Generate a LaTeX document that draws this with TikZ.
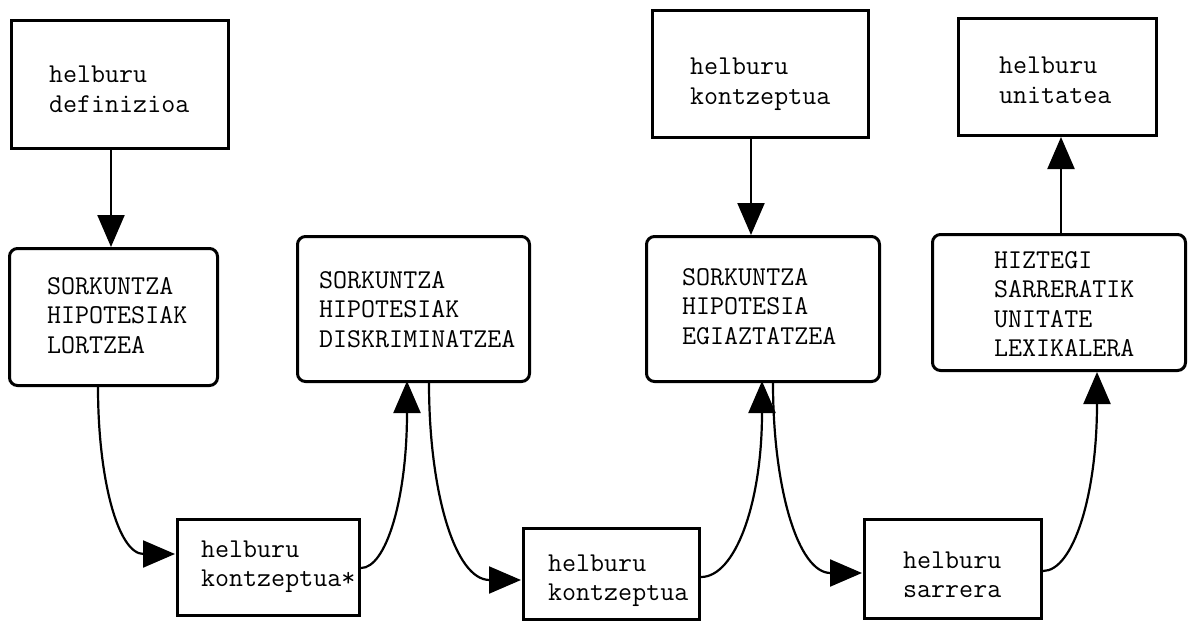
\documentclass[tikz,border=0pt]{standalone}
\usepackage{fontspec}
\usetikzlibrary{arrows.meta,calc}

\tikzset{
  box/.style={draw, line width=3pt, inner sep=0pt},
  roundbox/.style={box, rounded corners=8pt},
  label text/.style={anchor=base west, inner sep=0pt, align=left, text width=260pt,
    font=\fontsize{27.2pt}{29.5pt}\selectfont\ttfamily},
  link/.style={line width=2.2pt, -{Triangle[length=32pt,width=27pt]}}
}

\begin{document}
\begin{tikzpicture}[x=1pt, y=-1pt]
\fill[white] (0,0) rectangle (1188,623);
\useasboundingbox (0,0) rectangle (1188,623);

% boxes
\node[box, minimum width=217pt, minimum height=128pt] (n1) at (120,84.5) {};
\node[roundbox, minimum width=208pt, minimum height=137pt] (n2) at (113.5,317) {};
\node[box, minimum width=182pt, minimum height=96pt] (n3) at (268.5,567.5) {};
\node[roundbox, minimum width=232pt, minimum height=145pt] (n4) at (413.5,309) {};
\node[box, minimum width=176pt, minimum height=91pt] (n5) at (611.5,574) {};
\node[box, minimum width=216pt, minimum height=127pt] (n6) at (760.5,74) {};
\node[roundbox, minimum width=233pt, minimum height=145pt] (n7) at (763,309) {};
\node[box, minimum width=177pt, minimum height=99pt] (n8) at (953,569) {};
\node[box, minimum width=198pt, minimum height=117pt] (n9) at (1057.5,77) {};
\node[roundbox, minimum width=253pt, minimum height=136pt] (n10) at (1059,302.5) {};

% texts
\node[label text] (t1) at (49,83) {helburu\\definizioa};
\node[label text] (t2) at (47,294) {SORKUNTZA\\HIPOTESIAK\\LORTZEA};
\node[label text] (t3) at (201,557) {helburu\\kontzeptua*};
\node[label text] (t4) at (319,288) {SORKUNTZA\\HIPOTESIAK\\DISKRIMINATZEA};
\node[label text] (t5) at (548,571) {helburu\\kontzeptua};
\node[label text] (t6) at (690,75) {helburu\\kontzeptua};
\node[label text] (t7) at (682,285) {SORKUNTZA\\HIPOTESIA\\EGIAZTATZEA};
\node[label text] (t8) at (903,568) {helburu\\sarrera};
\node[label text] (t9) at (999,74) {helburu\\unitatea};
\node[label text] (t10) at (994,268) {HIZTEGI\\SARRERATIK\\UNITATE\\LEXIKALERA};

% connector end points
\coordinate (s1) at ($(n1.south)+(-9,0)$);
\coordinate (s2) at ($(n2.south)+(-15.5,0)$);
\coordinate (e2) at ($(n3.west)+(-1,-13.5)$);
\coordinate (s3) at ($(n3.east)+(0,0.5)$);
\coordinate (e3) at ($(n4.south)+(-6.5,-2)$);
\coordinate (s4) at ($(n4.south)+(15.5,0)$);
\coordinate (e4) at ($(n5.west)+(-1,6)$);
\coordinate (s5) at ($(n5.east)+(0,3)$);
\coordinate (e5) at ($(n7.south)+(-1,-2)$);
\coordinate (s6) at ($(n7.south)+(10,0)$);
\coordinate (e6) at ($(n8.west)+(-1,4)$);
\coordinate (s7) at ($(n8.east)+(0,2)$);
\coordinate (e7) at ($(n10.south)+(38,0)$);
\coordinate (s8) at ($(n6.south)+(-9.5,0)$);
\coordinate (s9) at ($(n10.north)+(2,0)$);

% connectors (second control point lies beyond the arrow head)
\draw[link] (s1) -- (s1 |- n2.north);
\draw[link] (s2) .. controls +(0,92) and +(-57,0) .. (e2);
\draw[link] (s3) .. controls +(25,0) and +(0,118) .. (e3);
\draw[link] (s4) .. controls +(0,109) and +(-66,0) .. (e4);
\draw[link] (s5) .. controls +(34,0) and +(0,123) .. (e5);
\draw[link] (s6) .. controls +(0,105) and +(-64,0) .. (e6);
\draw[link] (s7) .. controls +(30,0) and +(0,124) .. (e7);
\draw[link] (s8) -- (s8 |- n7.north);
\draw[link] (s9) -- (s9 |- n9.south);
\end{tikzpicture}
\end{document}
